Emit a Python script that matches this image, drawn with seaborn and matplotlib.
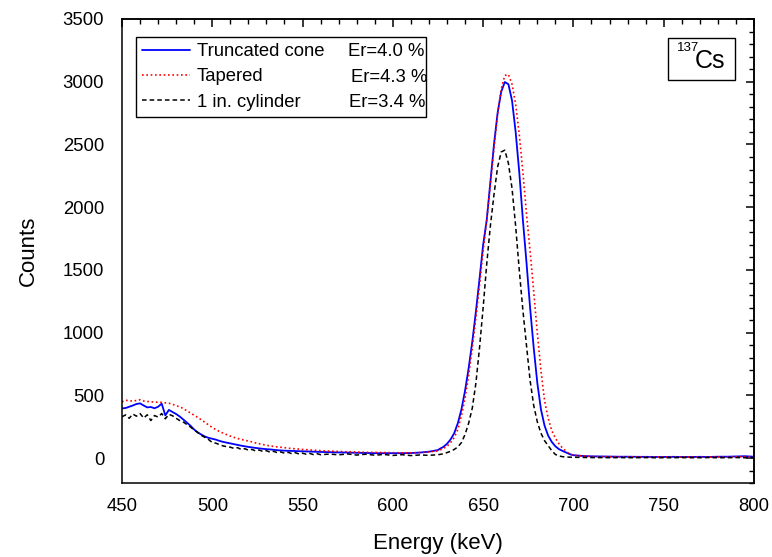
import numpy as np
import pandas as pd
import matplotlib
matplotlib.use("Agg")
import matplotlib.pyplot as plt
from matplotlib.patches import Rectangle
from matplotlib.ticker import MultipleLocator
import seaborn as sns

# Energy channels (keV): 2 keV steps over the Compton edge and photopeak,
# coarser steps on the flat stretches in between and above the peak
energy = np.concatenate([
    np.arange(450, 561, 2),
    np.arange(565, 626, 5),
    np.arange(626, 701, 2),
    np.arange(705, 801, 5),
])

truncated_cone = [
    397, 400, 410, 420, 432, 437, 420, 405, 408, 398,
    410, 435, 341, 385, 368, 352, 332, 308, 283, 258,
    228, 205, 188, 172, 162, 155, 148, 138, 130, 124,
    118, 112, 106, 100, 95, 90, 86, 82, 78, 75,
    72, 70, 67, 64, 62, 60, 59, 58, 57, 56,
    55, 54, 53, 52, 51, 50,
    48, 46, 45, 43, 42, 40, 40, 40, 40, 41, 45, 52, 65,
    75, 90, 115, 150, 200, 280, 390, 540, 720, 930,
    1170, 1430, 1700, 1900, 2200, 2500, 2750, 2920, 2998, 2980,
    2850, 2600, 2280, 1900, 1560, 1200, 880, 600, 390, 260,
    180, 130, 95, 72, 58, 45, 32, 24,
    18, 15, 14, 13, 12, 12, 11, 11, 10, 10,
    11, 10, 10, 11, 10, 12, 12, 14, 16, 12,
]

tapered = [
    450, 462, 458, 455, 460, 466, 456, 452, 450, 446,
    447, 445, 441, 438, 430, 418, 410, 395, 377, 360,
    342, 325, 305, 285, 265, 245, 228, 213, 200, 188,
    176, 166, 157, 150, 143, 137, 130, 122, 115, 109,
    103, 98, 94, 90, 87, 84, 80, 77, 75, 73,
    70, 68, 66, 64, 62, 60,
    57, 54, 51, 49, 47, 46, 45, 44, 43, 43, 45, 50, 58,
    65, 78, 95, 125, 165, 230, 340, 480, 660, 880,
    1120, 1380, 1650, 1900, 2180, 2470, 2740, 2940, 3050, 3058,
    2980, 2820, 2580, 2280, 1950, 1650, 1330, 1000, 700, 460,
    320, 220, 160, 115, 80, 55, 32, 24,
    18, 14, 12, 12, 11, 10, 10, 10, 9, 9,
    10, 9, 9, 10, 9, 10, 10, 11, 12, 10,
]

cylinder = [
    330, 345, 318, 352, 335, 356, 320, 346, 300, 340,
    328, 356, 314, 350, 338, 318, 300, 288, 268, 248,
    224, 204, 182, 165, 148, 125, 120, 108, 98, 92,
    88, 78, 84, 70, 76, 64, 70, 58, 65, 54,
    60, 48, 55, 44, 50, 40, 47, 36, 44, 34,
    40, 32, 38, 29, 36, 28,
    33, 27, 34, 25, 32, 24, 30, 22, 28, 21, 26, 23, 28,
    30, 35, 45, 55, 70, 90, 125, 190, 280, 400,
    600, 880, 1200, 1550, 1850, 2100, 2320, 2440, 2455, 2350,
    2150, 1850, 1500, 1180, 900, 620, 420, 290, 200, 140,
    100, 60, 30, 18, 12, 10, 8, 8,
    6, 5, 5, 4, 5, 4, 4, 5, 4, 4,
    4, 5, 4, 4, 5, 4, 4, 5, 4, 4,
]

detectors = ["Truncated cone", "Tapered", "1 in. cylinder"]
resolution = [4.0, 4.3, 3.4]
colors = ["#0000FF", "#FF0000", "#000000"]

spectra = pd.concat(
    [pd.DataFrame({"energy": energy, "counts": c, "detector": d})
     for d, c in zip(detectors, [truncated_cone, tapered, cylinder])],
    ignore_index=True,
)

sns.set_style("white")
plt.rcParams["font.family"] = ["Liberation Sans", "DejaVu Sans"]
plt.rcParams["text.color"] = "black"
plt.rcParams["axes.labelcolor"] = "black"

fig = plt.figure(figsize=(7.72, 5.57), dpi=100)
ax = fig.add_axes([0.158, 0.1323, 0.8187, 0.8336])

line_styles = [dict(lw=1.3), dict(lw=1.2, dashes=(1, 1.6)), dict(lw=1.1, dashes=(3, 2))]
for name, col, st in zip(detectors, colors, line_styles):
    sns.lineplot(data=spectra[spectra["detector"] == name], x="energy", y="counts",
                 color=col, lw=st["lw"], label=name, estimator=None, ax=ax)
    if "dashes" in st:
        ax.lines[-1].set_dashes(st["dashes"])

ax.set_xlim(450, 800)
ax.set_ylim(-200, 3500)
ax.xaxis.set_major_locator(MultipleLocator(50))
ax.xaxis.set_minor_locator(MultipleLocator(10))
ax.yaxis.set_major_locator(MultipleLocator(500))
ax.yaxis.set_minor_locator(MultipleLocator(100))
ax.tick_params(which="both", direction="out", top=False, right=False,
               labelsize=13.3, color="black", labelcolor="black")
ax.tick_params(which="major", length=5.8, width=1.1, pad=4.5)
ax.tick_params(which="minor", length=3.3, width=1.0)
ax.tick_params(axis="y", which="major", pad=7.0)

# inward ticks on the top and right frame edges
top = ax.secondary_xaxis("top")
top.xaxis.set_major_locator(MultipleLocator(50))
top.xaxis.set_minor_locator(MultipleLocator(10))
top.tick_params(which="both", direction="in", labeltop=False, color="black")
top.tick_params(which="major", length=5.8, width=1.1)
top.tick_params(which="minor", length=3.3, width=1.0)
right = ax.secondary_yaxis("right")
right.yaxis.set_major_locator(MultipleLocator(500))
right.yaxis.set_minor_locator(MultipleLocator(100))
right.tick_params(which="both", direction="in", labelright=False, color="black")
right.tick_params(which="major", length=5.8, width=1.1)
right.tick_params(which="minor", length=3.3, width=1.0)

for sp in list(ax.spines.values()) + [top.spines["top"], right.spines["right"]]:
    sp.set_color("black")
    sp.set_linewidth(1.1)

ax.set_xlabel("Energy (keV)", fontsize=16, labelpad=13.5)
ax.set_ylabel("Counts", fontsize=16, labelpad=17)

handles, labels = ax.get_legend_handles_labels()
leg = ax.legend(handles, labels, loc="upper left",
                bbox_to_anchor=(0.0217, 0.80, 0.460, 0.162), mode="expand",
                frameon=True, fancybox=False, edgecolor="black", framealpha=1,
                fontsize=13.3, handlelength=2.6, handletextpad=0.35,
                borderpad=0.36, labelspacing=0.44, borderaxespad=0)
leg.get_frame().set_linewidth(1.0)

for r, x, y in zip(resolution, [0.3576, 0.3623, 0.3592], [0.929, 0.873, 0.820]):
    ax.text(x, y, f"Er={r:.1f} %", transform=ax.transAxes, va="center",
            ha="left", fontsize=13.3, zorder=10)

# nuclide tag
ax.add_patch(Rectangle((0.864, 0.8686), 0.106, 0.0905, transform=ax.transAxes,
                       fill=False, edgecolor="black", lw=1.0))
ax.text(0.878, 0.950, "137", transform=ax.transAxes, va="top", ha="left",
        fontsize=9.5)
ax.text(0.907, 0.8945, "Cs", transform=ax.transAxes, va="baseline", ha="left",
        fontsize=18)

fig.savefig("out.png", dpi=100)
